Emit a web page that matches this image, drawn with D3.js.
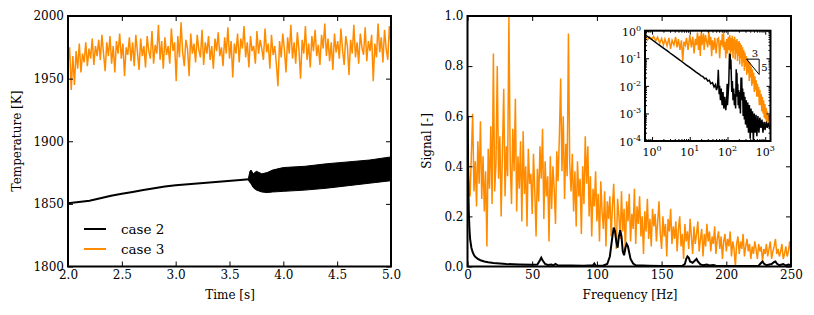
<!DOCTYPE html>
<html>
  <head>
    <title> Temperature and spectrum </title>
    <script src = "https://d3js.org/d3.v7.min.js" charset = "utf-8"></script>
    <style>
      body { margin: 0; background: #fff; }
      text { font-family: "DejaVu Serif", serif; }
    </style>
  </head>

  <body>
    <script>
      // ---- data ----
      // case 3 temperature, one value every 0.015 s from 2.0 s
      var tStart = 2.0, tStep = 0.015;
      var case3Temp = [
        1962, 1975, 1941, 1968, 1945, 1972, 1958, 1978, 1955, 1970, 1963, 1979, 1960, 1974, 1966, 1982, 1961, 1976, 1968, 1981,
        1965, 1985, 1970, 1956, 1979, 1968, 1984, 1962, 1976, 1955, 1980, 1970, 1986, 1966, 1978, 1952, 1975, 1969, 1983, 1964,
        1979, 1960, 1985, 1971, 1957, 1982, 1968, 1976, 1959, 1984, 1972, 1966, 1988, 1962, 1977, 1970, 1993, 1965, 1980, 1958,
        1983, 1969, 1976, 1962, 1990, 1972, 1979, 1948, 1984, 1967, 1995, 1971, 1960, 1981, 1974, 1952, 1986, 1970, 1978, 1963,
        1985, 1973, 1967, 1989, 1961, 1979, 1970, 1984, 1965, 1976, 1958, 1982, 1972, 1987, 1968, 1975, 1960, 1983, 1970, 1991,
        1966, 1980, 1951, 1978, 1970, 1986, 1963, 1982, 1974, 1992, 1967, 1979, 1959, 1984, 1972, 1976, 1962, 1988, 1970, 1981,
        1974, 1965, 1990, 1971, 1978, 1958, 1985, 1969, 1976, 1962, 1944, 1980, 1967, 1986, 1973, 1955, 1983, 1970, 1993, 1966,
        1979, 1962, 1987, 1973, 1950, 1981, 1970, 1992, 1965, 1978, 1959, 1984, 1972, 1989, 1968, 1977, 1961, 1985, 1974, 1994,
        1968, 1982, 1964, 1979, 1957, 1986, 1971, 1980, 1966, 1990, 1973, 1961, 1984, 1976, 1953, 1981, 1970, 1993, 1967, 1979,
        1962, 1986, 1975, 1969, 1991, 1964, 1980, 1972, 1985, 1948, 1978, 1967, 1994, 1971, 1983, 1963, 1989, 1974, 1965, 1992, 1976
      ];

      // case 2 temperature: smooth part, then the oscillating band (upper / lower)
      var case2Time = [2.0, 2.1, 2.2, 2.3, 2.4, 2.5, 2.6, 2.7, 2.8, 2.9, 3.0, 3.2, 3.4, 3.6, 3.68];
      var case2Temp = [1850.5, 1851.5, 1852.5, 1854.5, 1856.5, 1858, 1859.5, 1861, 1862.5, 1863.8, 1864.8, 1866.2, 1867.6, 1869, 1869.6];
      var bandTime  = [3.675, 3.69, 3.70, 3.72, 3.75, 3.8, 3.85, 3.9, 4.0, 4.2, 4.4, 4.6, 4.8, 5.0];
      var bandUpper = [1870, 1876, 1877, 1874, 1876, 1874, 1875, 1877, 1879, 1880, 1882, 1883.5, 1885, 1887.5];
      var bandLower = [1869, 1867, 1866, 1863, 1861, 1859.5, 1859, 1859.5, 1860, 1861, 1862.5, 1864.5, 1866.5, 1868.5];

      // case 3 spectrum, one value per Hz from 0 to 250 Hz
      var case3Signal = [
        0.52, 0.35, 0.28, 0.45, 0.61, 0.30, 0.42, 0.24, 0.50, 0.33,
        0.58, 0.27, 0.44, 0.22, 0.38, 0.08, 0.47, 0.31, 0.56, 0.25,
        0.85, 0.30, 0.41, 0.80, 0.35, 0.52, 0.20, 0.46, 0.71, 0.28,
        0.48, 0.36, 1.00, 0.42, 0.25, 0.55, 0.38, 0.67, 0.22, 0.44,
        0.31, 0.50, 0.18, 0.54, 0.29, 0.40, 0.16, 0.47, 0.33, 0.37,
        0.21, 0.45, 0.30, 0.12, 0.39, 0.26, 0.48, 0.35, 0.55, 0.19,
        0.42, 0.28, 0.36, 0.10, 0.44, 0.23, 0.40, 0.31, 0.17, 0.46,
        0.34, 0.52, 0.75, 0.38, 0.60, 0.27, 0.49, 0.36, 0.93, 0.41,
        0.30, 0.45, 0.22, 0.38, 0.16, 0.42, 0.28, 0.35, 0.13, 0.40,
        0.25, 0.52, 0.33, 0.48, 0.20, 0.36, 0.12, 0.31, 0.24, 0.38,
        0.18, 0.29, 0.10, 0.34, 0.22, 0.15, 0.30, 0.08, 0.26, 0.19,
        0.28, 0.12, 0.24, 0.33, 0.16, 0.07, 0.27, 0.20, 0.11, 0.30,
        0.14, 0.23, 0.06, 0.26, 0.18, 0.29, 0.10, 0.21, 0.15, 0.31,
        0.09, 0.24, 0.17, 0.28, 0.12, 0.20, 0.05, 0.22, 0.14, 0.27,
        0.11, 0.19, 0.08, 0.23, 0.16, 0.21, 0.10, 0.18, 0.26, 0.13,
        0.07, 0.20, 0.12, 0.17, 0.04, 0.19, 0.14, 0.23, 0.09, 0.16,
        0.11, 0.18, 0.06, 0.15, 0.20, 0.08, 0.13, 0.03, 0.17, 0.10,
        0.14, 0.07, 0.19, 0.12, 0.05, 0.16, 0.09, 0.13, 0.18, 0.06,
        0.11, 0.15, 0.04, 0.13, 0.08, 0.17, 0.10, 0.14, 0.06, 0.12,
        0.09, 0.16, 0.05, 0.11, 0.14, 0.07, 0.12, 0.03, 0.10, 0.13,
        0.06, 0.11, 0.08, 0.14, 0.04, 0.10, 0.07, 0.00, 0.09, 0.12,
        0.05, 0.10, 0.07, 0.13, 0.04, 0.08, 0.11, 0.06, 0.09, 0.03,
        0.08, 0.05, 0.10, 0.07, 0.03, 0.09, 0.06, 0.08, 0.02, 0.07,
        0.05, 0.09, 0.04, 0.07, 0.10, 0.03, 0.06, 0.08, 0.11, 0.05,
        0.07, 0.04, 0.06, 0.09, 0.03, 0.05, 0.08, 0.04, 0.06, 0.10,
        0.05
      ];

      // case 2 spectrum [Hz, signal]
      var case2Signal = [
        [0.2, 0.6], [0.5, 0.36], [1, 0.22], [1.5, 0.15], [2, 0.11], [3, 0.075], [4, 0.057], [5, 0.046], [6, 0.039],
        [8, 0.03], [10, 0.025], [13, 0.02], [16, 0.017], [20, 0.014], [25, 0.012], [30, 0.01], [40, 0.008], [50, 0.007],
        [54, 0.008], [56, 0.025], [57, 0.035], [58, 0.025], [60, 0.01], [62, 0.006], [65, 0.008], [66, 0.004], [68, 0.01],
        [70, 0.004], [80, 0.004], [90, 0.003], [97, 0.005], [98, 0.012], [99, 0.003], [105, 0.004], [108, 0.01], [110, 0.04],
        [112, 0.12], [113, 0.155], [114, 0.14], [115, 0.1], [116, 0.075], [117, 0.12], [118, 0.145], [119, 0.12], [120, 0.06],
        [121, 0.045], [122, 0.075], [123, 0.09], [124, 0.08], [125, 0.055], [126, 0.03], [128, 0.012], [130, 0.005],
        [140, 0.003], [150, 0.002], [160, 0.002], [166, 0.003], [168, 0.01], [169, 0.03], [170, 0.04], [171, 0.035],
        [172, 0.02], [174, 0.015], [176, 0.025], [177, 0.03], [178, 0.02], [180, 0.008], [182, 0.005], [185, 0.008],
        [187, 0.004], [190, 0.006], [192, 0.003], [200, 0.002], [215, 0.002], [225, 0.003], [227, 0.015], [228, 0.02],
        [229, 0.012], [231, 0.005], [235, 0.01], [237, 0.018], [238, 0.02], [239, 0.012], [241, 0.005], [244, 0.01],
        [246, 0.004], [248, 0.008], [250, 0.005]
      ];

      // inset, log-log spectra [Hz, signal]
      var insetCase3 = [
        [0.67, 0.55], [0.75, 0.45], [0.85, 0.6], [1.0, 0.5], [1.1, 0.62], [1.25, 0.42], [1.4, 0.58], [1.6, 0.35], [1.8, 0.52],
        [2.0, 0.3], [2.2, 0.5], [2.5, 0.28], [2.8, 0.55], [3.1, 0.22], [3.4, 0.45], [3.8, 0.3], [4.2, 0.6], [4.6, 0.25],
        [5.0, 0.5], [5.5, 0.2], [6.0, 0.45], [6.5, 0.08], [7.0, 0.4], [7.6, 0.3], [8.2, 0.55], [9.0, 0.2], [10, 0.7],
        [11, 0.25], [12, 0.6], [13, 0.15], [14, 0.5], [15, 0.3], [16, 0.85], [17, 0.2], [18, 0.65], [19, 0.12], [20, 0.85],
        [21, 0.3], [22, 0.5], [23, 0.8], [24, 0.2], [26, 0.7], [28, 0.4], [30, 0.25], [32, 1.0], [34, 0.3], [36, 0.6],
        [38, 0.12], [40, 0.45], [43, 0.2], [46, 0.55], [50, 0.15], [54, 0.5], [58, 0.55], [62, 0.1], [66, 0.45], [70, 0.3],
        [73, 0.75], [76, 0.25], [78, 0.93], [82, 0.2], [86, 0.4], [90, 0.1], [95, 0.5], [100, 0.15], [105, 0.6], [110, 0.2],
        [115, 0.7], [120, 0.12], [125, 0.55], [130, 0.18], [135, 0.65], [140, 0.1], [145, 0.5], [150, 0.2], [155, 0.6],
        [160, 0.09], [166, 0.45], [172, 0.15], [178, 0.5], [184, 0.08], [190, 0.4], [197, 0.12], [204, 0.42], [211, 0.06],
        [218, 0.35], [226, 0.1], [234, 0.3], [242, 0.05], [250, 0.25], [260, 0.07], [270, 0.2], [280, 0.035], [290, 0.16],
        [300, 0.05], [312, 0.12], [324, 0.025], [336, 0.1], [350, 0.03], [364, 0.08], [378, 0.015], [393, 0.07], [408, 0.02],
        [424, 0.05], [440, 0.01], [457, 0.04], [475, 0.012], [494, 0.03], [513, 0.006], [533, 0.022], [554, 0.007],
        [576, 0.016], [598, 0.004], [621, 0.012], [645, 0.004], [670, 0.009], [696, 0.002], [723, 0.007], [751, 0.002],
        [780, 0.005], [810, 0.0012], [841, 0.004], [874, 0.001], [908, 0.003], [943, 0.0007], [980, 0.0022], [1018, 0.0006],
        [1057, 0.0016], [1098, 0.0004], [1140, 0.0012], [1184, 0.0005], [1230, 0.0009], [1280, 0.0004], [1330, 0.0008],
        [1380, 0.0005]
      ];
      var insetCase2 = [
        [0.67, 0.7], [0.8, 0.58], [1.0, 0.47], [1.2, 0.39], [1.5, 0.31], [2.0, 0.235], [2.5, 0.19], [3.0, 0.155], [4.0, 0.117],
        [5.0, 0.094], [6.0, 0.078], [8.0, 0.058], [10, 0.047], [12, 0.039], [15, 0.031], [18, 0.026], [20, 0.023], [22, 0.022],
        [25, 0.018], [27, 0.019], [30, 0.015], [33, 0.016], [36, 0.012], [40, 0.013], [44, 0.009], [48, 0.011], [51, 0.007],
        [54, 0.009], [56, 0.02], [57, 0.038], [58, 0.02], [60, 0.005], [62, 0.01], [65, 0.003], [68, 0.008], [72, 0.002],
        [76, 0.006], [80, 0.0015], [85, 0.004], [90, 0.0013], [95, 0.003], [98, 0.012], [100, 0.002], [104, 0.005],
        [108, 0.012], [111, 0.06], [113, 0.15], [115, 0.08], [118, 0.14], [120, 0.04], [123, 0.09], [126, 0.025],
        [130, 0.006], [135, 0.015], [140, 0.003], [146, 0.008], [152, 0.002], [158, 0.005], [164, 0.0015], [170, 0.04],
        [174, 0.01], [178, 0.03], [182, 0.004], [187, 0.012], [192, 0.002], [198, 0.007], [205, 0.0015], [212, 0.006],
        [220, 0.001], [228, 0.02], [233, 0.004], [238, 0.02], [245, 0.003], [252, 0.008], [260, 0.0008], [270, 0.006],
        [280, 0.0006], [290, 0.004], [300, 0.0004], [315, 0.003], [330, 0.0003], [345, 0.0025], [360, 0.0002], [380, 0.002],
        [400, 0.00012], [420, 0.0015], [440, 0.0002], [460, 0.0012], [485, 0.0001], [510, 0.001], [540, 0.0002],
        [570, 0.0009], [600, 0.00015], [640, 0.0008], [680, 0.0002], [720, 0.0007], [770, 0.0003], [820, 0.0006],
        [870, 0.0002], [930, 0.0005], [990, 0.00025], [1060, 0.0005], [1130, 0.0003], [1210, 0.00045], [1300, 0.0003],
        [1380, 0.00035]
      ];
      // -5/3 slope triangle in inset data coordinates
      var slopeTri = [[320, 0.093], [690, 0.093], [690, 0.0258]];

      var tempTicks = [1800, 1850, 1900, 1950, 2000];
      var timeTicks = [2.0, 2.5, 3.0, 3.5, 4.0, 4.5, 5.0];
      var sigTicks  = [0.0, 0.2, 0.4, 0.6, 0.8, 1.0];
      var freqTicks = [0, 50, 100, 150, 200, 250];
      var decadesX = [1, 10, 100, 1000];
      var decadesY = [1e-4, 1e-3, 1e-2, 1e-1, 1];
      var legendNames = ["case 2", "case 3"];

      var orange = "#ff8c00";
      var width = 814, height = 315;

      var svg = d3.select("body")
        .append("svg")
        .attr("width", width)
        .attr("height", height);

      // draws a box with inward ticks on all four sides
      function frame(x, y, xt, yt, fmtX, fmtY, len) {
        var r = x.range(), b = y.range();
        var g = svg.append("g");
        g.append("g").attr("transform", "translate(0," + b[0] + ")")
          .call(d3.axisBottom(x).tickValues(xt).tickSize(-len).tickPadding(4).tickFormat(fmtX));
        g.append("g").attr("transform", "translate(0," + b[1] + ")")
          .call(d3.axisTop(x).tickValues(xt).tickSize(-len).tickFormat(""));
        g.append("g").attr("transform", "translate(" + r[0] + ",0)")
          .call(d3.axisLeft(y).tickValues(yt).tickSize(-len).tickPadding(4).tickFormat(fmtY));
        g.append("g").attr("transform", "translate(" + r[1] + ",0)")
          .call(d3.axisRight(y).tickValues(yt).tickSize(-len).tickFormat(""));
        g.selectAll(".domain").remove();
        g.selectAll(".tick line").attr("stroke", "#000").attr("stroke-width", 1);
        g.selectAll(".tick text").attr("font-size", 12).attr("font-family", "DejaVu Serif").attr("fill", "#000");
        g.append("rect")
          .attr("x", r[0]).attr("y", b[1])
          .attr("width", r[1] - r[0]).attr("height", b[0] - b[1])
          .attr("fill", "none").attr("stroke", "#000").attr("stroke-width", 2);
        return g;
      }

      // ---- left: temperature ----
      var xT = d3.scaleLinear().domain([2, 5]).range([68, 391]);
      var yT = d3.scaleLinear().domain([1800, 2000]).range([266.5, 16]);

      var clipL = svg.append("clipPath").attr("id", "clipL").append("rect")
        .attr("x", 68).attr("y", 16).attr("width", 323).attr("height", 250.5);

      var left = svg.append("g").attr("clip-path", "url(#clipL)");

      left.append("path")
        .datum(case3Temp)
        .attr("fill", "none")
        .attr("stroke", orange)
        .attr("stroke-width", 1.5)
        .attr("d", d3.line().x(function(d, i){ return xT(tStart + i * tStep); }).y(function(d){ return yT(d); }));

      left.append("path")
        .datum(d3.zip(case2Time, case2Temp))
        .attr("fill", "none")
        .attr("stroke", "#000")
        .attr("stroke-width", 2)
        .attr("d", d3.line().x(function(d){ return xT(d[0]); }).y(function(d){ return yT(d[1]); }));

      left.append("path")
        .datum(d3.zip(bandTime, bandUpper, bandLower))
        .attr("fill", "#000")
        .attr("stroke", "#000")
        .attr("stroke-width", 1)
        .attr("d", d3.area().x(function(d){ return xT(d[0]); }).y0(function(d){ return yT(d[2]); }).y1(function(d){ return yT(d[1]); }));

      frame(xT, yT, timeTicks, tempTicks, d3.format(".1f"), d3.format("d"), 5);

      // legend
      var leg = svg.append("g");
      legendNames.forEach(function(name, i){
        leg.append("line")
          .attr("x1", 84).attr("x2", 106)
          .attr("y1", 229 + i * 20).attr("y2", 229 + i * 20)
          .attr("stroke", i == 0 ? "#000" : orange)
          .attr("stroke-width", 2);
        leg.append("text")
          .attr("x", 121).attr("y", 234 + i * 20)
          .attr("font-family", "DejaVu Sans")
          .attr("font-size", 13.5)
          .text(name);
      });

      svg.append("text")
        .attr("x", 230).attr("y", 299)
        .attr("text-anchor", "middle").attr("font-size", 12)
        .text("Time [s]");
      svg.append("text")
        .attr("transform", "translate(21,141) rotate(-90)")
        .attr("text-anchor", "middle").attr("font-size", 12)
        .text("Temperature [K]");

      // ---- right: spectrum ----
      var xF = d3.scaleLinear().domain([0, 250]).range([467.5, 791]);
      var yS = d3.scaleLinear().domain([0, 1]).range([266.5, 16]);

      svg.append("clipPath").attr("id", "clipR").append("rect")
        .attr("x", 467.5).attr("y", 16).attr("width", 323.5).attr("height", 250.5);

      var right = svg.append("g").attr("clip-path", "url(#clipR)");

      right.append("path")
        .datum(case3Signal)
        .attr("fill", "none")
        .attr("stroke", orange)
        .attr("stroke-width", 1.5)
        .attr("d", d3.line().x(function(d, i){ return xF(i); }).y(function(d){ return yS(d); }));

      right.append("path")
        .datum(case2Signal)
        .attr("fill", "none")
        .attr("stroke", "#000")
        .attr("stroke-width", 2)
        .attr("d", d3.line().x(function(d){ return xF(d[0]); }).y(function(d){ return yS(d[1]); }));

      frame(xF, yS, freqTicks, sigTicks, d3.format("d"), d3.format(".1f"), 5);

      svg.append("text")
        .attr("x", 630).attr("y", 299)
        .attr("text-anchor", "middle").attr("font-size", 12)
        .text("Frequency [Hz]");
      svg.append("text")
        .attr("transform", "translate(431,141) rotate(-90)")
        .attr("text-anchor", "middle").attr("font-size", 12)
        .text("Signal [-]");

      // ---- inset, log-log ----
      var xI = d3.scaleLog().domain([0.65, 1380]).range([645, 770.5]);
      var yI = d3.scaleLog().domain([1e-4, 1]).range([141, 30.7]);

      svg.append("rect")
        .attr("x", 645).attr("y", 30.7).attr("width", 125.5).attr("height", 110.3)
        .attr("fill", "#fff");

      svg.append("clipPath").attr("id", "clipI").append("rect")
        .attr("x", 645).attr("y", 30.7).attr("width", 125.5).attr("height", 110.3);

      var inset = svg.append("g").attr("clip-path", "url(#clipI)");
      var logLine = d3.line().x(function(d){ return xI(d[0]); }).y(function(d){ return yI(d[1]); });

      inset.append("path").datum(insetCase3)
        .attr("fill", "none").attr("stroke", orange).attr("stroke-width", 1.5)
        .attr("d", logLine);
      inset.append("path").datum(insetCase2)
        .attr("fill", "none").attr("stroke", "#000").attr("stroke-width", 1.5)
        .attr("d", logLine);

      svg.append("path").datum(slopeTri)
        .attr("fill", "none").attr("stroke", "#000").attr("stroke-width", 1)
        .attr("d", logLine(slopeTri) + "Z");
      svg.append("text")
        .attr("x", (xI(slopeTri[0][0]) + xI(slopeTri[1][0])) / 2 + 2).attr("y", yI(slopeTri[0][1]) - 2)
        .attr("text-anchor", "middle").attr("font-size", 10)
        .text("3");
      svg.append("text")
        .attr("x", xI(slopeTri[1][0]) + 2).attr("y", (yI(slopeTri[1][1]) + yI(slopeTri[2][1])) / 2 + 4)
        .attr("font-size", 10)
        .text("5");

      // minor log ticks
      var minorX = [], minorY = [];
      [0.1, 1, 10, 100, 1000].forEach(function(d){ [2,3,4,5,6,7,8,9].forEach(function(m){ if (d*m >= 0.65 && d*m <= 1380) minorX.push(d*m); }); });
      [1e-4, 1e-3, 1e-2, 1e-1].forEach(function(d){ [2,3,4,5,6,7,8,9].forEach(function(m){ minorY.push(d*m); }); });

      var ig = frame(xI, yI, decadesX, decadesY, function(){ return ""; }, function(){ return ""; }, 4);
      ig.append("g").attr("transform", "translate(0,141)").call(d3.axisBottom(xI).tickValues(minorX).tickSize(-2).tickFormat(""));
      ig.append("g").attr("transform", "translate(0,30.7)").call(d3.axisTop(xI).tickValues(minorX).tickSize(-2).tickFormat(""));
      ig.append("g").attr("transform", "translate(645,0)").call(d3.axisLeft(yI).tickValues(minorY).tickSize(-2).tickFormat(""));
      ig.append("g").attr("transform", "translate(770.5,0)").call(d3.axisRight(yI).tickValues(minorY).tickSize(-2).tickFormat(""));
      ig.selectAll(".domain").remove();

      // power-of-ten labels
      var xl = svg.append("g").selectAll("text")
        .data(decadesX).enter().append("text")
        .attr("x", function(d){ return xI(d); })
        .attr("y", 156)
        .attr("text-anchor", "middle")
        .attr("font-size", 11);
      xl.append("tspan").text("10");
      xl.append("tspan").attr("dy", -5).attr("font-size", 8).text(function(d){ return Math.round(Math.log10(d)); });

      var yl = svg.append("g").selectAll("text")
        .data(decadesY).enter().append("text")
        .attr("x", 641)
        .attr("y", function(d){ return yI(d) + 5; })
        .attr("text-anchor", "end")
        .attr("font-size", 11);
      yl.append("tspan").text("10");
      yl.append("tspan").attr("dy", -5).attr("font-size", 8).text(function(d){ return Math.round(Math.log10(d)); });
    </script>
  </body>
</html>
